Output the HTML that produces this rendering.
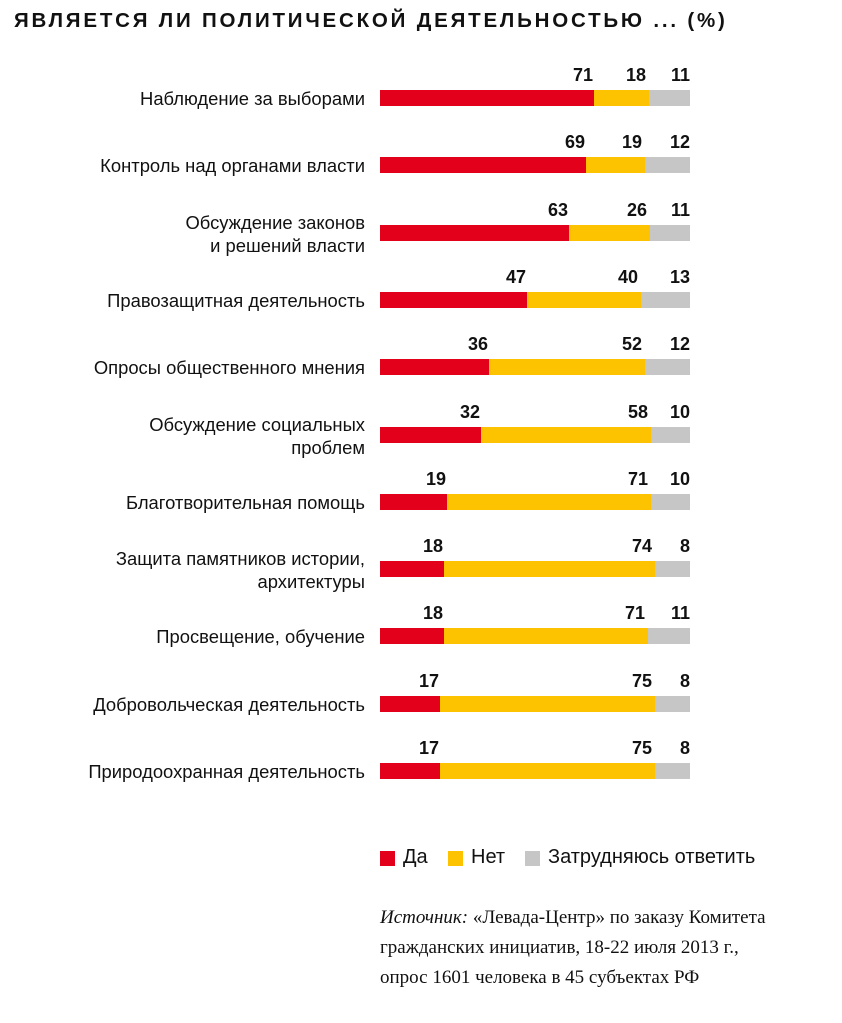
<!DOCTYPE html>
<html><head><meta charset="utf-8"><style>
body{margin:0;background:#fff;width:842px;height:1023px;position:relative;font-family:"Liberation Sans","DejaVu Sans",sans-serif;color:#111;overflow:hidden}
.t{position:absolute;left:14px;top:9px;font-weight:bold;font-size:20.5px;letter-spacing:2.8px}
.l{position:absolute;right:477px;text-align:right;font-size:18.4px;line-height:23px;white-space:nowrap}
.b{position:absolute;height:16px}
.n{position:absolute;font-weight:bold;font-size:18px;transform:translateX(-100%)}
.lg{position:absolute;top:846px;font-size:20px}
.sq{position:absolute;top:851px;width:15px;height:15px}
.s{position:absolute;left:380px;font-family:"Liberation Serif",serif;font-size:19px}
</style></head><body>
<div class="t">ЯВЛЯЕТСЯ ЛИ ПОЛИТИЧЕСКОЙ ДЕЯТЕЛЬНОСТЬЮ ... (%)</div>
<div id="c"></div>
<div class="sq" style="left:380px;background:#e2001a"></div><div class="lg" style="left:403px">Да</div>
<div class="sq" style="left:448px;background:#fdc300"></div><div class="lg" style="left:471px">Нет</div>
<div class="sq" style="left:525px;background:#c6c6c6"></div><div class="lg" style="left:548px">Затрудняюсь ответить</div>
<div class="s" style="top:907px"><i>Источник:</i> «Левада-Центр» по заказу Комитета</div>
<div class="s" style="top:937px">гражданских инициатив, 18-22 июля 2013 г.,</div>
<div class="s" style="top:967px">опрос 1601 человека в 45 субъектах РФ</div>
<script>
var d=[["Наблюдение за выборами",71,18,11,594,649],["Контроль над органами власти",69,19,12,586,645],["Обсуждение законов<br>и решений власти",63,26,11,569,650],["Правозащитная деятельность",47,40,13,527,641],["Опросы общественного мнения",36,52,12,489,645],["Обсуждение социальных<br>проблем",32,58,10,481,651],["Благотворительная помощь",19,71,10,447,651],["Защита памятников истории,<br>архитектуры",18,74,8,444,655],["Просвещение, обучение",18,71,11,444,648],["Добровольческая деятельность",17,75,8,440,655],["Природоохранная деятельность",17,75,8,440,655]];
var h="";
d.forEach(function(r,i){var y=Math.round(90+i*67.3);var two=r[0].indexOf("<br>")>0;
h+='<div class="l" style="top:'+(two?y-14:y-3)+'px">'+r[0]+'</div>';
h+='<div class="b" style="left:380px;top:'+y+'px;width:'+(r[4]-380)+'px;background:#e2001a"></div>';
h+='<div class="b" style="left:'+r[4]+'px;top:'+y+'px;width:'+(r[5]-r[4])+'px;background:#fdc300"></div>';
h+='<div class="b" style="left:'+r[5]+'px;top:'+y+'px;width:'+(690-r[5])+'px;background:#c6c6c6"></div>';
h+='<div class="n" style="left:'+(r[4]-1)+'px;top:'+(y-25)+'px">'+r[1]+'</div>';
h+='<div class="n" style="left:'+(r[5]-3)+'px;top:'+(y-25)+'px">'+r[2]+'</div>';
h+='<div class="n" style="left:690px;top:'+(y-25)+'px">'+r[3]+'</div>';});
document.getElementById("c").innerHTML=h;
</script>
</body></html>
